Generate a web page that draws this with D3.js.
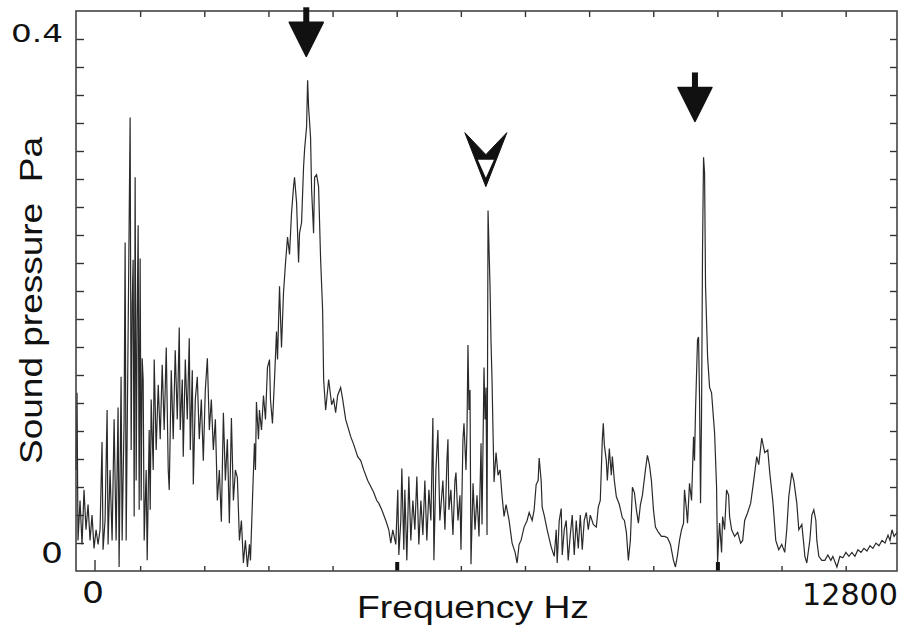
<!DOCTYPE html>
<html>
<head>
<meta charset="utf-8">
<script src="https://cdn.jsdelivr.net/npm/d3@7"></script>
<style>
  body { margin: 0; background: #fff; }
  svg { display: block; }
</style>
</head>
<body>
<div id="chart"></div>
<script>
// spectrum: [frequency Hz, sound pressure Pa]
var spectrum = [
  [0,.076],[16,.134],[31,.023],[63,.053],[94,.020],[125,.061],[156,.031],[188,.050],[219,.023],[250,.042],
  [281,.017],[313,.031],[344,.020],[375,.031],[406,.097],[422,.016],[453,.038],[485,.121],[500,.020],[531,.076],
  [563,.023],[594,.114],[625,.023],[656,.123],[672,.003],[703,.146],[719,.023],[750,.114],[766,.247],[782,.023],
  [813,.181],[844,.341],[860,.091],[876,.200],[891,.234],[907,.041],[922,.296],[938,.068],[954,.190],[969,.260],
  [985,.046],[1000,.235],[1016,.053],[1032,.160],[1047,.144],[1063,.023],[1094,.076],[1110,.008],[1141,.106],[1157,.046],
  [1172,.129],[1204,.076],[1219,.159],[1250,.091],[1282,.140],[1313,.099],[1344,.155],[1375,.106],[1407,.168],[1438,.076],
  [1454,.061],[1485,.151],[1516,.099],[1547,.166],[1579,.114],[1610,.183],[1625,.106],[1657,.144],[1672,.086],[1704,.159],
  [1735,.114],[1766,.175],[1782,.091],[1813,.151],[1829,.065],[1860,.129],[1891,.146],[1922,.099],[1954,.129],[1985,.083],
  [2016,.136],[2048,.160],[2079,.106],[2110,.129],[2141,.091],[2173,.114],[2204,.053],[2235,.076],[2266,.037],[2298,.119],
  [2329,.068],[2360,.099],[2391,.036],[2423,.115],[2454,.053],[2485,.076],[2516,.070],[2548,.023],[2579,.038],[2610,.006],
  [2641,.023],[2673,.003],[2704,.020],[2720,.008],[2751,.053],[2782,.096],[2798,.076],[2813,.127],[2845,.099],[2860,.121],
  [2892,.106],[2923,.132],[2954,.114],[2985,.153],[3017,.159],[3032,.129],[3063,.111],[3095,.144],[3126,.180],[3142,.159],
  [3173,.214],[3204,.168],[3235,.209],[3267,.232],[3298,.251],[3329,.238],[3360,.269],[3392,.289],[3407,.296],[3439,.277],
  [3470,.232],[3485,.254],[3517,.262],[3548,.304],[3564,.317],[3595,.334],[3611,.369],[3626,.349],[3657,.326],[3673,.287],
  [3704,.254],[3720,.296],[3751,.298],[3782,.289],[3814,.234],[3845,.196],[3861,.144],[3892,.121],[3939,.144],[3986,.125],
  [4017,.129],[4048,.119],[4079,.132],[4126,.138],[4158,.129],[4204,.114],[4283,.101],[4330,.095],[4392,.086],[4439,.083],
  [4486,.076],[4548,.068],[4611,.062],[4642,.059],[4689,.053],[4720,.051],[4767,.046],[4830,.038],[4877,.031],[4908,.021],
  [4939,.031],[4986,.020],[5017,.061],[5033,.012],[5064,.038],[5080,.077],[5111,.016],[5127,.061],[5158,.008],[5189,.071],
  [5220,.023],[5252,.053],[5283,.031],[5314,.071],[5345,.020],[5377,.053],[5408,.027],[5439,.068],[5470,.023],[5502,.061],
  [5533,.038],[5564,.115],[5580,.008],[5611,.076],[5642,.106],[5673,.038],[5720,.068],[5752,.031],[5783,.083],[5799,.099],
  [5814,.046],[5845,.061],[5877,.027],[5908,.068],[5924,.074],[5955,.038],[5986,.057],[6002,.016],[6033,.099],[6049,.111],
  [6080,.076],[6096,.106],[6111,.170],[6127,.121],[6143,.136],[6158,.005],[6190,.066],[6221,.031],[6252,.057],[6283,.026],
  [6315,.096],[6330,.035],[6361,.153],[6377,.114],[6393,.138],[6408,.027],[6424,.271],[6440,.241],[6455,.214],[6471,.171],
  [6486,.144],[6502,.104],[6518,.067],[6549,.089],[6580,.072],[6611,.076],[6643,.056],[6674,.041],[6705,.050],[6752,.038],
  [6799,.021],[6846,.014],[6877,.006],[6908,.020],[6939,.023],[6986,.033],[7033,.038],[7065,.044],[7112,.038],[7143,.046],
  [7174,.065],[7205,.068],[7221,.085],[7252,.068],[7268,.048],[7299,.042],[7346,.031],[7409,.018],[7456,.011],[7487,.031],
  [7502,.006],[7534,.038],[7565,.047],[7581,.012],[7612,.031],[7643,.038],[7674,.008],[7706,.027],[7737,.042],[7768,.012],
  [7799,.038],[7831,.017],[7862,.042],[7893,.016],[7924,.038],[7956,.044],[7987,.031],[8018,.042],[8065,.035],[8112,.033],
  [8143,.048],[8174,.053],[8206,.099],[8221,.111],[8237,.095],[8268,.083],[8284,.068],[8315,.092],[8346,.072],[8362,.086],
  [8393,.068],[8424,.056],[8471,.050],[8518,.040],[8550,.038],[8581,.029],[8612,.008],[8643,.023],[8675,.063],[8706,.059],
  [8737,.046],[8768,.036],[8800,.050],[8831,.057],[8878,.076],[8909,.087],[8940,.080],[8971,.068],[9003,.046],[9034,.033],
  [9081,.029],[9128,.026],[9175,.026],[9222,.025],[9268,.020],[9315,.008],[9346,.003],[9378,.012],[9409,.023],[9440,.031],
  [9472,.036],[9487,.061],[9518,.046],[9534,.036],[9565,.066],[9597,.053],[9628,.101],[9643,.083],[9659,.121],[9690,.174],
  [9706,.176],[9722,.129],[9737,.051],[9753,.119],[9768,.241],[9784,.311],[9800,.299],[9815,.214],[9847,.161],[9878,.138],
  [9909,.134],[9940,.114],[9956,.104],[9987,.063],[10003,.006],[10018,.023],[10034,.036],[10065,.014],[10081,.041],[10112,.031],
  [10143,.061],[10175,.057],[10190,.041],[10222,.031],[10269,.026],[10316,.029],[10362,.021],[10394,.023],[10425,.038],[10472,.044],
  [10519,.051],[10566,.068],[10613,.086],[10644,.080],[10691,.100],[10738,.089],[10785,.091],[10816,.074],[10863,.053],[10878,.044],
  [10910,.023],[10956,.016],[11003,.020],[11050,.014],[11081,.031],[11113,.056],[11160,.074],[11191,.068],[11238,.051],[11269,.031],
  [11316,.035],[11347,.020],[11363,.011],[11394,.006],[11410,.012],[11441,.023],[11472,.042],[11503,.046],[11535,.038],[11550,.023],
  [11581,.011],[11628,.008],[11675,.008],[11722,.012],[11769,.008],[11800,.011],[11863,.003],[11910,.011],[11956,.010],[12003,.014],
  [12050,.011],[12097,.014],[12144,.011],[12191,.016],[12238,.014],[12285,.017],[12332,.015],[12379,.019],[12425,.017],[12472,.021],
  [12519,.019],[12566,.023],[12613,.021],[12660,.027],[12691,.023],[12722,.031],[12754,.026],[12800,.029]
];

var xTicks = [1000, 2000, 3000, 4000, 5000, 6000, 7000, 8000, 9000, 10000, 11000, 12000];
var xMajorTicks = [5000, 10000];
var xTickLabels = ["0", "12800"];
var yTickLabels = ["0", "0.4"];
var yMinorCount = 19;

// arrows pointing at the peaks
var arrowFreq = [3590, 6390, 9650];
var arrowPa = [0.387, 0.289, 0.338];
var arrowKind = ["filled", "open", "filled"];

function init() {

    var w = 901;
    var h = 629;
    var left = 76, right = 897, top = 11, bottom = 571;

    var xScale = d3.scaleLinear()
                   .domain([0, 12800])
                   .range([left, right]);

    var yScale = d3.scaleLinear()
                   .domain([0, 0.4])
                   .range([bottom, 39]);

    var yMinor = d3.range(1, yMinorCount + 1).map(function(i) {
        return i * 0.4 / yMinorCount;
    });

    var svg = d3.select("#chart")
                .append("svg")
                .attr("width", w)
                .attr("height", h);

    // ticks, all pointing inwards
    var tickGroups = [
        svg.append("g").attr("transform", "translate(0," + top + ")")
           .call(d3.axisTop(xScale).tickValues(xTicks).tickSize(-6).tickFormat("")),
        svg.append("g").attr("transform", "translate(0," + bottom + ")")
           .call(d3.axisBottom(xScale).tickValues(xTicks).tickSize(-5).tickFormat("")),
        svg.append("g").attr("transform", "translate(" + left + ",0)")
           .call(d3.axisLeft(yScale).tickValues(yMinor).tickSize(-8).tickFormat("")),
        svg.append("g").attr("transform", "translate(" + right + ",0)")
           .call(d3.axisRight(yScale).tickValues(yMinor).tickSize(-7).tickFormat(""))
    ];
    tickGroups.forEach(function(g) {
        g.select(".domain").remove();
        g.selectAll("line").attr("stroke", "#333").attr("stroke-width", 1.4);
    });

    var major = svg.append("g")
                   .attr("transform", "translate(0," + bottom + ")")
                   .call(d3.axisBottom(xScale).tickValues(xMajorTicks).tickSize(-9).tickFormat(""));
    major.select(".domain").remove();
    major.selectAll("line").attr("stroke", "#111").attr("stroke-width", 4);

    // small tick under the "0" label
    svg.append("line")
       .attr("x1", xScale(0) + 19).attr("x2", xScale(0) + 19)
       .attr("y1", bottom - 11).attr("y2", bottom)
       .attr("stroke", "#333").attr("stroke-width", 1.4);

    // spectrum trace
    var line = d3.line()
                 .x(function(d) { return xScale(d[0]); })
                 .y(function(d) { return yScale(d[1]); });

    svg.append("path")
       .datum(spectrum)
       .attr("d", line)
       .attr("fill", "none")
       .attr("stroke", "#2a2a2a")
       .attr("stroke-width", 1.2)
       .attr("stroke-linejoin", "miter");

    // frame
    svg.append("rect")
       .attr("x", left)
       .attr("y", top)
       .attr("width", right - left)
       .attr("height", bottom - top)
       .attr("fill", "none")
       .attr("stroke", "#444")
       .attr("stroke-width", 1.6);

    // arrows
    arrowFreq.forEach(function(f, i) {
        var tx = xScale(f);
        var ty = yScale(arrowPa[i]);
        var g = svg.append("g").attr("transform", "translate(" + tx + "," + ty + ")");
        if (arrowKind[i] === "filled") {
            g.append("rect")
             .attr("x", -3).attr("y", -49)
             .attr("width", 6).attr("height", 17)
             .attr("fill", "#111");
            g.append("path")
             .attr("d", "M-17,-34 L17,-34 L0,0 Z")
             .attr("fill", "#111")
             .attr("stroke", "#111")
             .attr("stroke-linejoin", "round")
             .attr("stroke-width", 1.5);
        } else {
            g.append("path")
             .attr("d", "M-21,-54 L0,-32 L21,-54 L0,0 Z")
             .attr("fill", "#111")
             .attr("stroke", "#111")
             .attr("stroke-width", 1);
            g.append("path")
             .attr("d", "M-8,-27 L8,-27 L0,-9 Z")
             .attr("fill", "#fff");
        }
    });

    // tick labels
    var labelFont = "'DejaVu Sans', 'Liberation Sans', sans-serif";
    var textFont = "'Liberation Sans', Arial, sans-serif";

    svg.append("text")
       .attr("x", left - 13).attr("y", yScale(0.4) + 3)
       .attr("text-anchor", "end")
       .attr("font-family", labelFont).attr("font-size", 25)
       .attr("textLength", 52).attr("lengthAdjust", "spacingAndGlyphs")
       .attr("fill", "#111")
       .text(yTickLabels[1]);

    svg.append("text")
       .attr("x", left - 13).attr("y", yScale(0) - 8)
       .attr("text-anchor", "end")
       .attr("font-family", labelFont).attr("font-size", 28)
       .attr("textLength", 22).attr("lengthAdjust", "spacingAndGlyphs")
       .attr("fill", "#111")
       .text(yTickLabels[0]);

    svg.append("text")
       .attr("x", xScale(0) + 17).attr("y", 603)
       .attr("text-anchor", "middle")
       .attr("font-family", labelFont).attr("font-size", 31)
       .attr("textLength", 22).attr("lengthAdjust", "spacingAndGlyphs")
       .attr("fill", "#111")
       .text(xTickLabels[0]);

    svg.append("text")
       .attr("x", xScale(12800) + 1).attr("y", 605)
       .attr("text-anchor", "end")
       .attr("font-family", labelFont).attr("font-size", 31)
       .attr("textLength", 96).attr("lengthAdjust", "spacingAndGlyphs")
       .attr("fill", "#111")
       .text(xTickLabels[1]);

    // axis titles
    svg.append("text")
       .attr("x", 357).attr("y", 618)
       .attr("font-family", textFont).attr("font-size", 32)
       .attr("textLength", 232).attr("lengthAdjust", "spacingAndGlyphs")
       .attr("fill", "#111")
       .text("Frequency Hz");

    svg.append("text")
       .attr("transform", "translate(42,464) rotate(-90)")
       .attr("font-family", textFont).attr("font-size", 32)
       .attr("textLength", 327).attr("lengthAdjust", "spacingAndGlyphs")
       .attr("fill", "#111")
       .style("white-space", "pre")
       .text("Sound pressure  Pa");
}

window.onload = init;
</script>
</body>
</html>
